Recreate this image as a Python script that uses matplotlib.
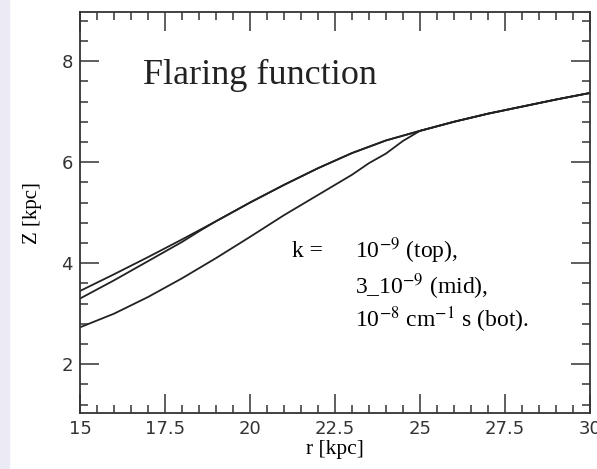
import matplotlib
matplotlib.use("Agg")
import matplotlib.pyplot as plt
from matplotlib.patches import Rectangle
from matplotlib.ticker import MultipleLocator

plt.rcParams["mathtext.fontset"] = "stix"

# radius grid [kpc] and flaring heights Z [kpc] for the three k values
r_top = [15, 16, 17, 18, 19, 20, 21, 22, 23, 24, 25, 26, 27, 28, 29, 30]
z_top = [3.45, 3.78, 4.12, 4.47, 4.83, 5.20, 5.55, 5.88, 6.18, 6.43,
         6.62, 6.80, 6.96, 7.10, 7.24, 7.37]

r_mid = [15, 16, 17, 18, 18.5, 19, 20, 21, 22, 23, 24, 25, 26, 27, 28, 29, 30]
z_mid = [3.30, 3.66, 4.04, 4.42, 4.63, 4.83, 5.20, 5.55, 5.88, 6.18, 6.43,
         6.62, 6.80, 6.96, 7.10, 7.24, 7.37]

r_bot = [15, 16, 17, 18, 19, 20, 21, 22, 22.5, 23, 23.5, 24, 24.5, 25,
         26, 27, 28, 29, 30]
z_bot = [2.73, 3.00, 3.33, 3.70, 4.10, 4.52, 4.95, 5.35, 5.55, 5.75, 5.98,
         6.17, 6.42, 6.62, 6.80, 6.96, 7.10, 7.24, 7.37]

x_ticks = [15, 17.5, 20, 22.5, 25, 27.5, 30]
x_labels = ["15", "17.5", "20", "22.5", "25", "27.5", "30"]
y_ticks = [2, 4, 6, 8]

fig = plt.figure(figsize=(5.97, 4.69), dpi=100)
# faint tinted strip along the left edge of the scan
fig.patches.append(Rectangle((0, 0), 0.015, 1, transform=fig.transFigure,
                             color="#ecebf5", zorder=-1))
ax = fig.add_axes([0.134, 0.119, 0.854, 0.855])

for r, z in [(r_top, z_top), (r_mid, z_mid), (r_bot, z_bot)]:
    ax.plot(r, z, color="#222222", lw=1.3)

ax.set_xlim(15, 30)
ax.set_ylim(1.03, 8.97)
ax.set_xticks(x_ticks)
ax.set_xticklabels(x_labels)
ax.set_yticks(y_ticks)
ax.xaxis.set_minor_locator(MultipleLocator(0.5))
ax.yaxis.set_minor_locator(MultipleLocator(0.4))
ax.tick_params(which="both", direction="in", top=True, right=True,
               labelsize=13, width=1.1, color="#333333", labelcolor="#333333")
ax.tick_params(which="major", length=14, pad=5)
ax.tick_params(which="minor", length=6)
for s in ax.spines.values():
    s.set_linewidth(1.3)
    s.set_color("#333333")

serif = "Liberation Serif"
ax.set_xlabel("r [kpc]", family=serif, fontsize=15.5, labelpad=1)
ax.set_ylabel("Z [kpc]", family=serif, fontsize=15, labelpad=14)

ax.text(16.85, 7.55, "Flaring function", family=serif, fontsize=26,
        va="baseline", ha="left", color="#222222")

fs = 17
ax.text(21.24, 4.24, "k =", family=serif, fontsize=fs, va="center")
ax.text(23.09, 4.24, r"10$^{-9}$ (top),", family=serif, fontsize=fs,
        va="center")
ax.text(23.09, 3.53, r"3_10$^{-9}$ (mid),", family=serif, fontsize=fs,
        va="center")
ax.text(23.09, 2.88, r"10$^{-8}$ cm$^{-1}$ s (bot).", family=serif,
        fontsize=fs, va="center")

fig.savefig("out.png", dpi=100)
